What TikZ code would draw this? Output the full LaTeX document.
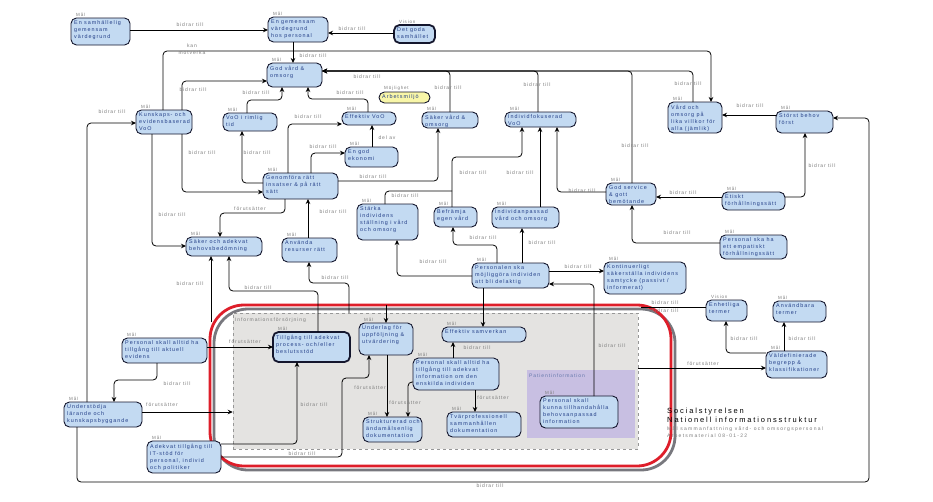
\documentclass[tikz,border=0pt]{standalone}
\usepackage{fontspec}
\setmainfont{Liberation Sans}
\usetikzlibrary{arrows.meta}
\newfontfamily\lsA[LetterSpace=18]{Liberation Sans}
\newfontfamily\lsT[LetterSpace=25]{Liberation Sans}
\newcommand\bxf{\lsA\fontsize{5.4}{7.1}\selectfont}
\newcommand\malf{\lsA\fontsize{4.5}{5}\selectfont}
\newcommand\lblf{\lsA\fontsize{5}{6.8}\selectfont}
\newcommand\titA{\lsT\fontsize{7.5}{9}\selectfont}
\newcommand\titB{\lsT\fontsize{5}{7}\selectfont}
\definecolor{boxf}{RGB}{195,218,242}
\definecolor{boxb}{RGB}{20,22,45}
\definecolor{boxt}{RGB}{35,62,135}
\definecolor{labg}{RGB}{125,125,125}
\definecolor{yel}{RGB}{248,246,168}
\definecolor{infof}{RGB}{228,227,225}
\definecolor{purp}{RGB}{200,191,226}
\definecolor{frred}{RGB}{222,30,42}
\definecolor{frgray}{RGB}{120,120,126}
\tikzset{
  box/.style={draw=boxb, fill=boxf, rounded corners=5.5pt, line width=0.9pt, inner sep=0pt, outer sep=0pt},
  bt/.style={anchor=north west, inner sep=0pt, align=left, font=\bxf, text=boxt},
  mal/.style={anchor=south west, inner sep=0pt, font=\malf, text=labg},
  lbl/.style={inner sep=0pt, font=\lblf, text=labg, align=center},
  arr/.style={draw=black, line width=0.8pt, rounded corners=4pt, -{Stealth[length=5pt,width=4.5pt]}},
  ln/.style={draw=black, line width=0.8pt, rounded corners=4pt},
}
\newcommand\bx[8][]{%
  \pgfmathsetmacro\bw{#5-#3}\pgfmathsetmacro\bh{#6-#4}%
  \node[box,#1,minimum width=\bw pt,minimum height=\bh pt] (#2) at ({(#3+#5)/2},{(#4+#6)/2}) {};
  \node[bt] (#2t) at ({#3+3},{#4+2.5}) {#8};
  \node[mal] (#2m) at ({#3+5},{#4-1}) {#7};
}
\newcommand\lb[4]{\node[lbl] (#1) at (#2,#3) {#4};}
\begin{document}
\begin{tikzpicture}[x=1pt,y=-1pt]
\useasboundingbox[fill=white] (0,0) rectangle (933,501);
% frame and regions
\node[draw=frgray, line width=2.8pt, rounded corners=34pt, minimum width=461pt, minimum height=161pt, inner sep=0pt] (frsh) at (444.5,389.5) {};
\node[draw=frred, line width=2.8pt, rounded corners=34pt, minimum width=461pt, minimum height=161pt, inner sep=0pt] (frame) at (440.5,385.5) {};
\node[draw=labg!80, dashed, fill=infof, line width=0.5pt, minimum width=405pt, minimum height=136pt, inner sep=0pt] (info) at (435.5,381) {};
\node[fill=purp, minimum width=108pt, minimum height=68pt, inner sep=0pt] (pat) at (581,404) {};
\node[lbl, anchor=west] (infol) at (235,320) {Informationsförsörjning};
\node[lbl, anchor=west, text=boxt!70] (patl) at (529,376) {Patientinformation};
% boxes
\bx{samh}{71}{18}{130}{45}{Mål}{En samhällelig\\gemensam\\värdegrund}
\bx{gemv}{268}{17}{328}{42}{Mål}{En gemensam\\värdegrund\\hos personal}
\bx[line width=1.8pt]{goda}{394}{25}{435}{43}{Vision}{Det goda\\samhället}
\bx{god}{267}{63}{322}{87}{Mål}{God vård \&\\omsorg}
\bx{kun}{136}{110}{192}{134}{Mål}{Kunskaps- och\\evidensbaserad\\VoO}
\bx{rim}{223}{113}{277}{131}{Mål}{VoO i rimlig\\tid}
\bx{eff}{342}{112}{396}{125}{Mål}{Effektiv VoO}
\bx[fill=yel, rounded corners=5.5pt]{arb}{379}{92}{430}{103}{Möjlighet}{Arbetsmiljö}
\bx{sak}{422}{112}{478}{128}{Mål}{Säker vård \&\\omsorg}
\bx{ind}{505}{112}{576}{127}{Mål}{Individfokuserad\\VoO}
\bx{lika}{668}{102}{722}{133}{Mål}{Vård och\\omsorg på\\lika villkor för\\alla (jämlik)}
\bx{sto}{776}{111}{833}{133}{Mål}{Störst behov\\först}
\bx{eti}{722}{192}{785}{210}{Mål}{Etiskt\\förhållningssätt}
\bx{gse}{606}{183}{656}{205}{Mål}{God service\\\& gott\\bemötande}
\bx{emp}{720}{235}{787}{259}{Mål}{Personal ska ha\\ett empatiskt\\förhållningssätt}
\bx{kon}{604}{262}{686}{294}{Mål}{Kontinuerligt\\säkerställa individens\\samtycke (passivt /\\informerat)}
\bx{pers}{472}{263}{549}{288}{Mål}{Personalen ska\\möjliggöra individen\\att bli delaktig}
\bx{sta}{357}{204}{418}{240}{Mål}{Stärka\\individens\\ställning i vård\\och omsorg}
\bx{fra}{434}{207}{477}{227}{Mål}{Befrämja\\egen vård}
\bx{inda}{492}{207}{559}{228}{Mål}{Individanpassad\\vård och omsorg}
\bx{eko}{345}{147}{398}{167}{Mål}{En god\\ekonomi}
\bx{gen}{263}{173}{338}{199}{Mål}{Genomföra rätt\\insatser \& på rätt\\sätt}
\bx{sab}{186}{237}{262}{256}{Mål}{Säker och adekvat\\behovsbedömning}
\bx{anv}{282}{238}{337}{262}{Mål}{Använda\\resurser rätt}
\bx[line width=1.8pt]{till}{273}{332}{350}{362}{Mål}{Tillgång till adekvat\\process- och/eller\\beslutsstöd}
\bx{und}{359}{323}{413}{355}{Mål}{Underlag för\\uppföljning \&\\utvärdering}
\bx{str}{363}{417}{422}{442}{Mål}{Strukturerad och\\ändamålsenlig\\dokumentation}
\bx{esv}{442}{327}{526}{342}{Mål}{Effektiv samverkan}
\bx{pai}{413}{358}{499}{390}{Mål}{Personal skall alltid ha\\tillgång till adekvat\\information om den\\enskilda individen}
\bx{tva}{447}{412}{521}{437}{Mål}{Tvärprofessionell\\sammanhållen\\dokumentation}
\bx{pkt}{540}{396}{618}{428}{Mål}{Personal skall\\kunna tillhandahålla\\behovsanpassad\\information}
\bx{pev}{122}{338}{207}{363}{Mål}{Personal skall alltid ha\\tillgång till aktuell\\evidens}
\bx{und2}{64}{402}{142}{427}{Mål}{Understödja\\lärande och\\kunskapsbyggande}
\bx{ait}{147}{441}{221}{473}{Mål}{Adekvat tillgång till\\IT-stöd för\\personal, individ\\och politiker}
\bx{enh}{706}{300}{747}{321}{Vision}{Enhetliga\\termer}
\bx{anvb}{773}{301}{826}{322}{Mål}{Användbara\\termer}
\bx{vald}{766}{351}{827}{378}{Mål}{Väldefinierade\\begrepp \&\\klassifikationer}
% connectors
\coordinate (f1) at (211,322);
\coordinate (f2) at (386,305);
\coordinate (c50) at (641,307);
\draw[arr] (samh.east|-0,30) -- (gemv.west|-0,30);
\draw[arr] (goda.west|-0,33) -- (gemv.east|-0,33);
\draw[arr] (gemv.south-|293,0) -- (god.north-|293,0);
\draw[arr] (kun.north-|163,0) |- (711,51) -- (lika.north-|711,0);
\draw[arr] (kun.north-|182,0) |- (god.west|-0,81);
\draw[arr] (und2.north-|87,0) |- (kun.west|-0,123);
\draw[arr] (rim.north-|247,0) |- (282,100) -- (god.south-|282,0);
\draw[arr] (eff.north-|368,0) |- (308,99) -- (god.south-|308,0);
\draw[arr] (sak.north-|450,0) |- (god.east|-0,71);
\draw[arr] (ind.north-|538,0) |- (god.east|-0,71);
\draw[arr] (gse.north-|632,0) |- (god.east|-0,71);
\draw[arr] (lika.north-|693,0) |- (god.east|-0,71);
\draw[arr] (sto.west|-0,115) -- (lika.east|-0,115);
\draw[arr] (eti.east|-0,197) -| (sto.south-|805,0);
\draw[arr] (eti.west|-0,197) -- (gse.east|-0,197);
\draw[arr] (emp.west|-0,243) -| (gse.south-|632,0);
\draw[arr] (und2.south-|77,0) |- (869,482) |- (sto.east|-0,118);
\draw[arr] (gse.west|-0,192) -| (ind.south-|557,0);
\draw[arr] (inda.north-|540,0) -- (ind.south-|540,0);
\draw[arr] (fra.north-|452,0) |- (522,157) -- (ind.south-|522,0);
\draw[ln] (sta.north-|385,0) |- (452,191);
\draw[arr] (pers.north-|497,0) |- (453,245) -- (fra.south-|453,0);
\draw[arr] (pers.north-|522,0) -- (inda.south-|522,0);
\draw[arr] (pers.west|-0,276) -| (sta.south-|397,0);
\draw[arr] (pers.east|-0,271) -- (kon.west|-0,271);
\draw[arr] (pkt.north-|594,0) |- (pers.east|-0,284);
\draw[arr] (eko.north-|372,0) -- (eff.south-|372,0);
\draw[arr] (gen.west|-0,183) -| (rim.south-|242,0);
\draw[arr] (gen.north-|288,0) |- (eff.west|-0,124);
\draw[arr] (gen.north-|311,0) |- (eko.west|-0,153);
\draw[arr] (gen.east|-0,181) -| (sak.south-|438,0);
\draw[arr] (gen.south-|285,0) |- (220,213) -- (sab.north-|220,0);
\draw[arr] (kun.south-|182,0) |- (gen.west|-0,192);
\draw[arr] (kun.south-|152,0) |- (sab.west|-0,246);
\draw[arr] (anv.north-|308,0) -- (gen.south-|308,0);
\draw[arr] (f1) -- (sab.south-|211,0);
\draw[arr] (till.north-|318,0) |- (229,291) -- (sab.south-|229,0);
\draw[arr] (info.north-|349,0) |- (309,283) -- (anv.south-|309,0);
\draw[arr] (pers.south-|483,0) -- (esv.north-|483,0);
\draw[arr] (f2) -- (und.north-|386,0);
\draw[arr] (pev.east|-0,347) -- (till.west|-0,347);
\draw[arr] (pev.south-|157,0) |- (114,380) -- (und2.north-|114,0);
\draw[arr] (und2.east|-0,412) -- (info.west|-0,412);
\draw[arr] (ait.east|-0,444) -| (till.south-|297,0);
\draw[arr] (ait.east|-0,457) -| (342,378) -| (und.south-|369,0);
\draw[arr] (und.south-|387,0) -- (str.north-|387,0);
\draw[arr] (pai.west|-0,382) -| (str.north-|408,0);
\draw[arr] (pai.north-|453,0) -- (esv.south-|453,0);
\draw[arr] (pai.south-|475,0) -- (tva.north-|475,0);
\draw[ln] (c50) -- (enh.west|-0,307);
\draw[arr] (info.east|-0,368) -- (vald.west|-0,368);
\draw[arr] (vald.north-|784,0) -- (anvb.south-|784,0);
\draw[arr] (vald.west|-0,353) -| (enh.south-|726,0);
% labels
\lb{L1}{190}{25}{bidrar till}
\lb{L2}{352}{29}{bidrar till}
\lb{L3}{313}{56}{bidrar till}
\lb{L4}{192}{49}{kan\\motverka}
\lb{L5}{193}{90}{bidrar till}
\lb{L6}{112}{112}{bidrar till}
\lb{L7}{256}{93}{bidrar till}
\lb{L8}{350}{93}{bidrar till}
\lb{L9}{367}{77}{bidrar till}
\lb{L10}{448}{88}{bidrar till}
\lb{L11}{537}{85}{bidrar till}
\lb{L12}{635}{146}{bidrar till}
\lb{L13}{688}{84}{bidrar till}
\lb{L14}{750}{106}{bidrar till}
\lb{L15}{822}{166}{bidrar till}
\lb{L16}{683}{193}{bidrar till}
\lb{L17}{677}{233}{bidrar till}
\lb{L18}{490}{486}{bidrar till}
\lb{L19}{582}{191}{bidrar till}
\lb{L20}{520}{173}{bidrar till}
\lb{L21}{473}{173}{bidrar till}
\lb{L22}{405}{196}{bidrar till}
\lb{L23}{483}{238}{bidrar till}
\lb{L24}{542}{243}{bidrar till}
\lb{L25}{433}{262}{bidrar till}
\lb{L26}{578}{267}{bidrar till}
\lb{L27}{612}{346}{bidrar till}
\lb{L28}{387}{138}{del av}
\lb{L29}{257}{153}{bidrar till}
\lb{L30}{308}{117}{bidrar till}
\lb{L31}{323}{147}{bidrar till}
\lb{L32}{373}{177}{bidrar till}
\lb{L33}{250}{209}{förutsätter}
\lb{L34}{202}{153}{bidrar till}
\lb{L35}{172}{215}{bidrar till}
\lb{L36}{333}{212}{bidrar till}
\lb{L37}{190}{284}{bidrar till}
\lb{L52}{258}{288}{bidrar till}
\lb{L53}{335}{278}{bidrar till}
\lb{L38}{245}{342}{förutsätter}
\lb{L39}{177}{384}{bidrar till}
\lb{L40}{162}{405}{förutsätter}
\lb{L41}{314}{405}{bidrar till}
\lb{L42}{302}{454}{bidrar till}
\lb{L43}{370}{388}{förutsätter}
\lb{L44}{405}{403}{förutsätter}
\lb{L45}{477}{348}{bidrar till}
\lb{L46}{493}{398}{förutsätter}
\lb{L47}{665}{303}{bidrar till}
\lb{L48}{665}{311}{bidrar till}
\lb{L49}{703}{364}{förutsätter}
\lb{L50}{802}{339}{bidrar till}
\lb{L51}{744}{339}{bidrar till}
% title
\node[anchor=base west, font=\titA, inner sep=0pt] (tt1) at (667,413) {Socialstyrelsen};
\node[anchor=base west, font=\titA, inner sep=0pt] (tt2) at (667,422) {Nationell informationsstruktur};
\node[anchor=base west, font=\titB, text=labg, inner sep=0pt] (tt3) at (667,430) {Mål sammanfattning vård- och omsorgspersonal};
\node[anchor=base west, font=\titB, text=labg, inner sep=0pt] (tt4) at (667,437) {Arbetsmaterial 08-01-22};
\end{tikzpicture}
\end{document}
